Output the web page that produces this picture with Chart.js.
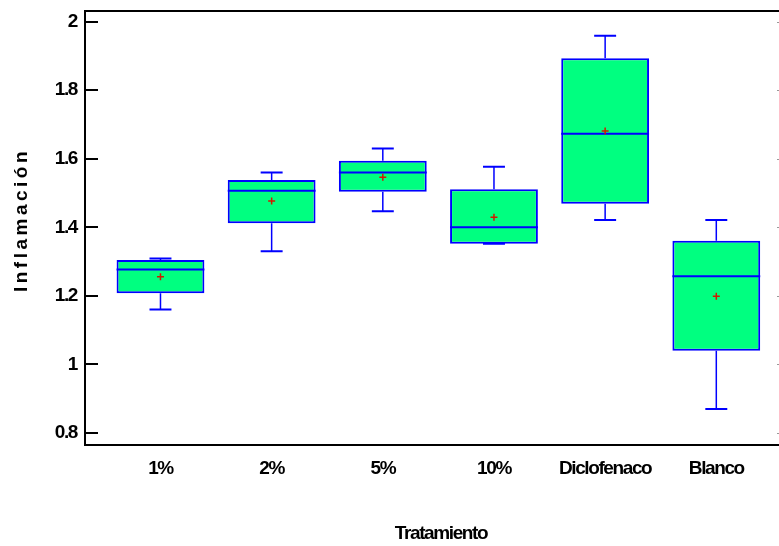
<!DOCTYPE html>
<html>
<head>
<meta charset="utf-8">
<script src="https://cdn.jsdelivr.net/npm/chart.js@4/dist/chart.umd.min.js"></script>
<style>
  html, body { margin: 0; padding: 0; background: #fff; }
  #wrap { width: 779px; height: 546px; }
</style>
</head>
<body>
<div id="wrap"><canvas id="c" width="779" height="546"></canvas></div>
<script>
// ---- data ----
const categories = ['1%', '2%', '5%', '10%', 'Diclofenaco', 'Blanco'];
const whiskerLow  = [1.160, 1.330, 1.447, 1.352, 1.421, 0.870];
const quartile1   = [1.208, 1.412, 1.504, 1.352, 1.469, 1.040];
const medians     = [1.277, 1.507, 1.560, 1.400, 1.673, 1.257];
const quartile3   = [1.305, 1.538, 1.594, 1.511, 1.893, 1.361];
const whiskerHigh = [1.309, 1.560, 1.630, 1.577, 1.959, 1.421];
const means       = [1.256, 1.477, 1.546, 1.429, 1.681, 1.199];
const yTicks      = [0.8, 1, 1.2, 1.4, 1.6, 1.8, 2];
const xTitle = 'Tratamiento';
const yTitle = 'Inflamación';

const FONT = '"Liberation Sans Narrow", "Arial Narrow", "Liberation Sans", Arial, sans-serif';
Chart.defaults.font.family = FONT;
Chart.defaults.font.weight = 'bold';
Chart.defaults.font.size = 19;
Chart.defaults.color = '#000';

const BOX_BLUE = '#0000ff';
const TIGHT = '-1.4px';

const tightText = {
  id: 'tightText',
  beforeDraw(chart) { chart.ctx.letterSpacing = TIGHT; }
};

const boxPlugin = {
  id: 'boxParts',
  afterDatasetDraw(chart, args) {
    if (args.meta.type !== 'bar') return;
    const {ctx} = chart;
    const y = chart.scales.y;
    ctx.save();
    ctx.strokeStyle = BOX_BLUE;
    args.meta.data.forEach((bar, i) => {
      const cx = bar.x;
      const half = bar.width / 2;
      const cap = bar.width * 0.125;
      const pLow = y.getPixelForValue(whiskerLow[i]);
      const pQ1 = y.getPixelForValue(quartile1[i]);
      const pQ3 = y.getPixelForValue(quartile3[i]);
      const pHigh = y.getPixelForValue(whiskerHigh[i]);
      const pMed = y.getPixelForValue(medians[i]);
      ctx.lineWidth = 1.5;
      ctx.beginPath();
      ctx.moveTo(cx, pQ3); ctx.lineTo(cx, pHigh);
      ctx.moveTo(cx, pQ1); ctx.lineTo(cx, pLow);
      ctx.stroke();
      ctx.lineWidth = 2;
      ctx.beginPath();
      ctx.moveTo(cx - cap, pHigh); ctx.lineTo(cx + cap, pHigh);
      ctx.moveTo(cx - cap, pLow); ctx.lineTo(cx + cap, pLow);
      ctx.stroke();
      ctx.beginPath();
      ctx.moveTo(cx - half, pMed); ctx.lineTo(cx + half, pMed);
      ctx.stroke();
    });
    ctx.restore();
  }
};

const framePlugin = {
  id: 'frame',
  afterDraw(chart) {
    const {ctx, chartArea} = chart;
    const y = chart.scales.y;
    ctx.save();
    ctx.strokeStyle = '#000';
    ctx.lineWidth = 2;
    ctx.beginPath();
    ctx.moveTo(chartArea.left - 1, chartArea.top);
    ctx.lineTo(chartArea.right, chartArea.top);
    ctx.stroke();
    y.ticks.forEach(t => {
      const py = Math.round(y.getPixelForValue(t.value));
      ctx.beginPath();
      ctx.moveTo(chartArea.left, py);
      ctx.lineTo(chartArea.left + 13, py);
      ctx.stroke();
    });
    ctx.strokeStyle = '#999';
    ctx.lineWidth = 1;
    y.ticks.forEach(t => {
      const py = Math.round(y.getPixelForValue(t.value)) + 0.5;
      ctx.beginPath();
      ctx.moveTo(chartArea.right - 2, py);
      ctx.lineTo(chartArea.right, py);
      ctx.stroke();
    });
    ctx.fillStyle = '#000';
    ctx.font = 'bold 19px ' + FONT;
    ctx.textAlign = 'center';
    ctx.textBaseline = 'middle';
    // x axis title
    ctx.letterSpacing = TIGHT;
    ctx.fillText(xTitle, (chartArea.left + chartArea.right) / 2 + 9, 534);
    // y axis title with spaced letters
    ctx.letterSpacing = '3.5px';
    ctx.translate(22, (chartArea.top + chartArea.bottom) / 2 - 8);
    ctx.rotate(-Math.PI / 2);
    ctx.fillText(yTitle, 0, 0);
    ctx.restore();
  }
};

new Chart(document.getElementById('c'), {
  type: 'bar',
  data: {
    datasets: [
      {
        type: 'bar',
        order: 2,
        data: categories.map((c, i) => ({x: i, y: [quartile1[i], quartile3[i]]})),
        backgroundColor: '#00ff80',
        borderColor: BOX_BLUE,
        borderWidth: 2,
        borderSkipped: false,
        categoryPercentage: 1,
        barPercentage: 0.79
      },
      {
        type: 'scatter',
        order: 1,
        data: categories.map((c, i) => ({x: i, y: means[i]})),
        pointStyle: 'cross',
        pointRadius: 3.5,
        borderColor: '#d01a00',
        borderWidth: 1.5,
        showLine: false
      }
    ]
  },
  options: {
    responsive: false,
    animation: false,
    devicePixelRatio: 1,
    layout: { autoPadding: false, padding: { top: 11, right: 0, bottom: 0, left: 0 } },
    plugins: { legend: { display: false }, tooltip: { enabled: false } },
    scales: {
      x: {
        type: 'linear',
        offset: false,
        min: -0.679,
        max: 5.564,
        grid: { display: false, drawTicks: false, offset: false },
        border: { display: true, color: '#000', width: 2 },
        afterFit(s) { s.height = 101; s.paddingLeft = 0; s.paddingRight = 0; },
        afterBuildTicks(s) { s.ticks = categories.map((c, i) => ({value: i})); },
        ticks: {
          padding: 12,
          autoSkip: false,
          maxRotation: 0,
          callback: (v) => categories[v]
        },
        title: { display: false, text: xTitle }
      },
      y: {
        min: 0.765,
        max: 2.031,
        grid: { display: false, drawTicks: false },
        border: { display: true, color: '#000', width: 2 },
        afterFit(s) { s.width = 85; s.paddingTop = 0; s.paddingBottom = 0; },
        afterBuildTicks(s) { s.ticks = yTicks.map(v => ({value: v})); },
        ticks: { padding: 8, callback: (v) => String(v) }
      }
    }
  },
  plugins: [tightText, boxPlugin, framePlugin]
});
</script>
</body>
</html>
